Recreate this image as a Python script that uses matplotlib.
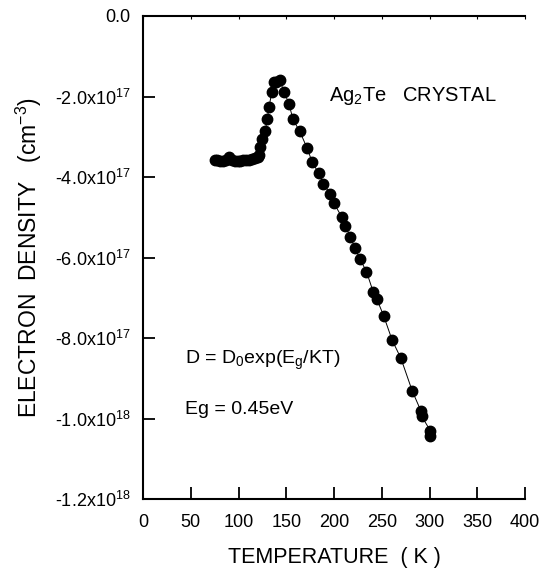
import matplotlib
matplotlib.use("Agg")
import matplotlib.pyplot as plt
from matplotlib.ticker import FixedLocator, FixedFormatter

plt.rcParams['font.family'] = ['Liberation Sans', 'DejaVu Sans']
plt.rcParams['mathtext.fontset'] = 'custom'
plt.rcParams['mathtext.rm'] = 'Liberation Sans'
plt.rcParams['mathtext.it'] = 'Liberation Sans'
plt.rcParams['mathtext.default'] = 'regular'

# Data: temperature (K) and electron density (cm^-3)
temperature = [75, 78, 81, 84, 87, 90, 93, 96, 99, 102, 105, 108, 111, 114, 117,
               120, 121, 123, 125, 128, 130, 132, 135, 137, 139, 143, 148, 153, 157,
               164, 172, 177, 184, 189, 196, 200, 208, 212, 217, 222, 227, 234,
               241, 245, 252, 261, 270, 282, 291, 292, 301, 301]
density_e17 = [-3.57, -3.59, -3.60, -3.60, -3.58, -3.50, -3.57, -3.60, -3.60, -3.60,
               -3.59, -3.59, -3.58, -3.56, -3.54,
               -3.50, -3.45, -3.26, -3.06, -2.85, -2.57, -2.25, -1.88, -1.65, -1.63,
               -1.59, -1.90, -2.19, -2.57, -2.86, -3.29, -3.62, -3.91, -4.17, -4.42,
               -4.65, -4.99, -5.22, -5.48, -5.77, -6.03, -6.35, -6.85, -7.04, -7.45,
               -8.06, -8.50, -9.32, -9.81, -9.95, -10.31, -10.43]
density = [v * 1e17 for v in density_e17]

x_ticks = [0, 50, 100, 150, 200, 250, 300, 350, 400]
x_tick_labels = ['0', '50', '100', '150', '200', '250', '300', '350', '400']
y_ticks = [0.0, -2e17, -4e17, -6e17, -8e17, -1e18, -1.2e18]
y_tick_labels = ['0.0', r'-2.0x10$^{17}$', r'-4.0x10$^{17}$', r'-6.0x10$^{17}$',
                 r'-8.0x10$^{17}$', r'-1.0x10$^{18}$', r'-1.2x10$^{18}$']

W, H = 547, 572
fig = plt.figure(figsize=(W / 100, H / 100), dpi=100)
ax = fig.add_axes([143 / W, 1 - 499 / H, (525 - 143) / W, (499 - 16) / H])

ax.plot(temperature, density, color='black', lw=0.7, marker='o', ms=7.5,
        mfc='black', mec='black', zorder=3)

ax.set_xlim(0, 400)
ax.set_ylim(-1.2e18, 0)
ax.xaxis.set_major_locator(FixedLocator(x_ticks))
ax.xaxis.set_major_formatter(FixedFormatter(x_tick_labels))
ax.yaxis.set_major_locator(FixedLocator(y_ticks))
ax.yaxis.set_major_formatter(FixedFormatter(y_tick_labels))

for s in ['left', 'bottom', 'top']:
    ax.spines[s].set_linewidth(1.5)
    ax.spines[s].set_color('black')
ax.spines['right'].set_visible(False)

ax.tick_params(axis='both', direction='in', length=8.5, width=1.3, labelsize=13,
               colors='black')
ax.tick_params(axis='x', pad=11, top=True, labeltop=False)
ax.tick_params(axis='y', pad=9)
# short ticks on top
for t in ax.xaxis.get_major_ticks():
    t.tick2line.set_markersize(2)
    t.tick2line.set_markeredgewidth(0.8)

ax.set_xlabel('TEMPERATURE  ( K )', fontsize=15.5, labelpad=11)
ax.set_ylabel(r'ELECTRON  DENSITY   (cm$^{-3}$)', fontsize=16.5, labelpad=8)

ax.text(329 / W, 1 - 96 / H, r'Ag$_2$Te   CRYSTAL', transform=fig.transFigure,
        fontsize=14.5, va='center', ha='left')
ax.text(185 / W, 1 - 360 / H, r'D = D$_0$exp(E$_g$/KT)', transform=fig.transFigure,
        fontsize=14, va='center', ha='left')
ax.text(185 / W, 1 - 409 / H, 'Eg = 0.45eV', transform=fig.transFigure,
        fontsize=14, va='center', ha='left')

fig.savefig('out.png', dpi=100)
